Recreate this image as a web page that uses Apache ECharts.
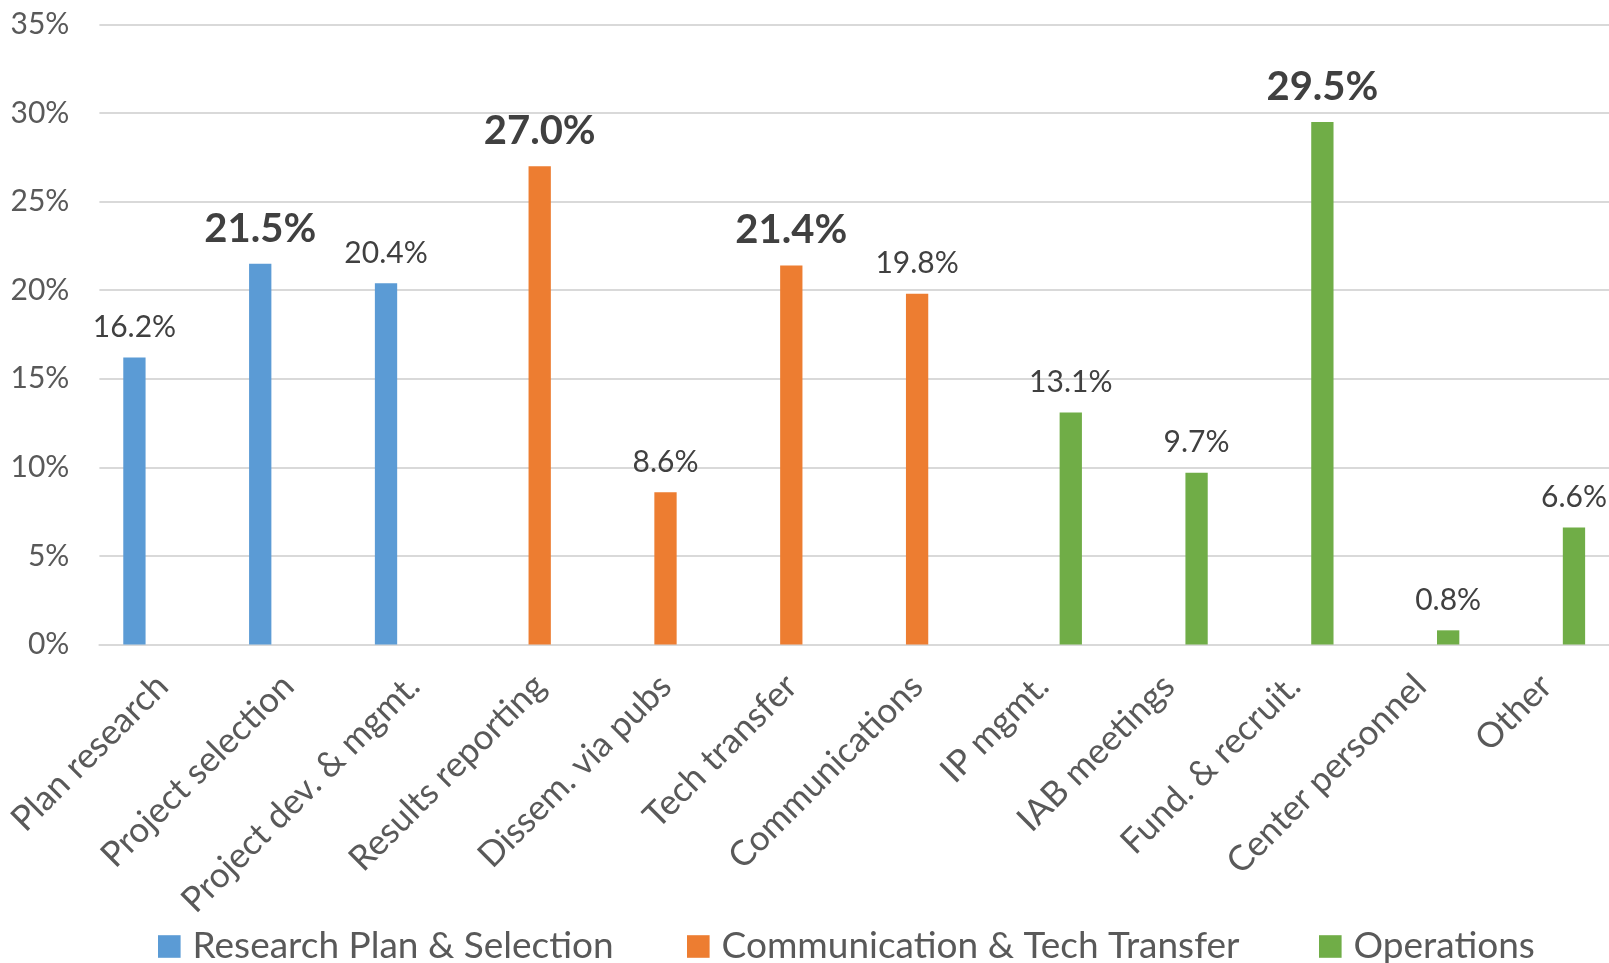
<!DOCTYPE html>
<html>
<head>
<meta charset="utf-8">
<title>Share of responses by activity</title>
<script src="https://cdn.jsdelivr.net/npm/echarts@6/dist/echarts.min.js"></script>
<style>
  html, body { margin: 0; padding: 0; background: #ffffff; }
  #chart { width: 1609px; height: 963px; }
</style>
</head>
<body>
<div id="chart"></div>
<script>
// Activity categories along the x axis
const categories = [
  'Plan research', 'Project selection', 'Project dev. & mgmt.',
  'Results reporting', 'Dissem. via pubs', 'Tech transfer', 'Communications',
  'IP mgmt.', 'IAB meetings', 'Fund. & recruit.', 'Center personnel', 'Other'
];

// Percentage for each category
const values = [16.2, 21.5, 20.4, 27.0, 8.6, 21.4, 19.8, 13.1, 9.7, 29.5, 0.8, 6.6];

// Which group each category belongs to (index into groupNames)
const groupIndex = [0, 0, 0, 1, 1, 1, 1, 2, 2, 2, 2, 2];

// Group (series) names and colours
const groupNames = ['Research Plan & Selection', 'Communication & Tech Transfer', 'Operations'];
const groupColors = ['#5B9BD5', '#ED7D31', '#70AD47'];

// Categories whose value label is emphasised
const emphasised = ['Project selection', 'Results reporting', 'Tech transfer', 'Fund. & recruit.'];

// Y axis ticks (percent)
const yTicks = { min: 0, max: 35, step: 5 };

const FONT = 'Lato';

const series = groupNames.map((name, g) => ({
  name: name,
  type: 'bar',
  barWidth: 22.3,
  barGap: '25%',
  itemStyle: { color: groupColors[g] },
  label: {
    show: true,
    position: 'top',
    distance: 15,
    fontFamily: FONT,
    fontSize: 30,
    color: '#404040',
    formatter: p => p.value.toFixed(1) + '%'
  },
  data: values.map((v, i) => {
    if (groupIndex[i] !== g) return null;
    if (emphasised.includes(categories[i])) {
      return { value: v, label: { fontSize: 40, fontWeight: 'bold', color: '#404040' } };
    }
    return v;
  })
}));

// Separate legend boxes so each entry sits at its own x position
const legendLefts = [158, 687, 1319];
const legends = groupNames.map((name, g) => ({
  data: [name],
  left: legendLefts[g],
  top: 928,
  padding: 0,
  icon: 'rect',
  itemWidth: 22.6,
  itemHeight: 22.6,
  selectedMode: false,
  textStyle: {
    fontFamily: FONT,
    fontSize: 37,
    color: '#595959',
    padding: [0, 0, 0, 7]
  }
}));

const chart = echarts.init(document.getElementById('chart'));
chart.setOption({
  animation: false,
  backgroundColor: '#ffffff',
  grid: { left: 99.4, right: 0, top: 24.5, bottom: 318.5 },
  legend: legends,
  xAxis: {
    type: 'category',
    data: categories,
    axisTick: { show: false },
    axisLine: { lineStyle: { color: '#D9D9D9', width: 2 } },
    axisLabel: {
      interval: 0,
      rotate: 45,
      margin: 36,
      fontFamily: FONT,
      fontSize: 35,
      color: '#595959'
    }
  },
  yAxis: {
    type: 'value',
    min: yTicks.min,
    max: yTicks.max,
    interval: yTicks.step,
    axisLine: { show: false },
    axisTick: { show: false },
    splitLine: { lineStyle: { color: '#D9D9D9', width: 2 } },
    axisLabel: {
      margin: 30,
      fontFamily: FONT,
      fontSize: 30,
      color: '#595959',
      formatter: '{value}%'
    }
  },
  series: series
});
</script>
</body>
</html>
